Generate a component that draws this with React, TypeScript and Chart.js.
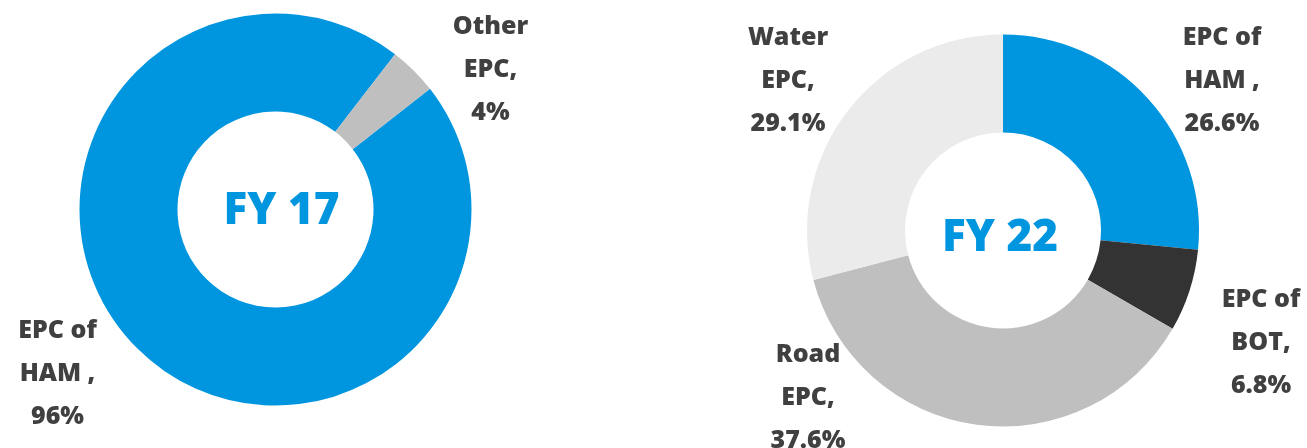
import React, { useEffect, useRef } from 'react';
import { Chart, registerables } from 'chart.js';

Chart.register(...registerables);

// ---- Data ----
const fy17Categories = ['EPC of HAM', 'Other EPC'];
const fy17Values = [96, 4];
const fy17LabelLines = [
  ['EPC of', 'HAM ,', '96%'],
  ['Other', 'EPC,', '4%'],
];
const fy17Colors = ['#0095DF', '#BFBFBF'];
const fy17Title = 'FY 17';

const fy22Categories = ['EPC of HAM', 'EPC of BOT', 'Road EPC', 'Water EPC'];
const fy22Values = [26.6, 6.8, 37.6, 29.1];
const fy22LabelLines = [
  ['EPC of', 'HAM ,', '26.6%'],
  ['EPC of', 'BOT,', '6.8%'],
  ['Road', 'EPC,', '37.6%'],
  ['Water', 'EPC,', '29.1%'],
];
const fy22Colors = ['#0095DF', '#333333', '#BFBFBF', '#EBEBEB'];
const fy22Title = 'FY 22';

// ---- Layout (label anchors relative to doughnut centre, middle line) ----
const fy17LabelOffsets = [
  [-218, 163],
  [215, -141],
];
const fy22LabelOffsets = [
  [219, -151],
  [258, 111],
  [-195, 166],
  [-215, -151],
];

const FONT = '"Open Sans", "Noto Sans", sans-serif';

const labelPlugin = {
  id: 'sliceLabels',
  afterDraw(chart: any, _args: any, opts: any) {
    const meta = chart.getDatasetMeta(0);
    const arc = meta.data[0];
    if (!arc) return;
    const cx = arc.x;
    const cy = arc.y;
    const ctx = chart.ctx;
    ctx.save();
    ctx.textAlign = 'center';
    ctx.textBaseline = 'alphabetic';
    ctx.fillStyle = '#404040';
    ctx.font = `800 25px ${FONT}`;
    const lh = 43;
    (opts.lines || []).forEach((lines: string[], i: number) => {
      const [dx, dy] = opts.offsets[i];
      lines.forEach((t, j) => {
        ctx.fillText(t, cx + dx, cy + dy + 8.5 + (j - 1) * lh);
      });
    });
    ctx.fillStyle = '#0095DF';
    ctx.font = `800 44px ${FONT}`;
    ctx.fillText(opts.title, cx + opts.titleOffset[0], cy + opts.titleOffset[1] + 16);
    ctx.restore();
  },
};

function Doughnut(props: {
  categories: string[];
  values: number[];
  colors: string[];
  lines: string[][];
  offsets: number[][];
  title: string;
  titleOffset: number[];
  rotation: number;
  width: number;
  height: number;
  left: number;
  padding: { left: number; right: number; top: number; bottom: number };
}) {
  const ref = useRef<HTMLCanvasElement>(null);
  useEffect(() => {
    if (!ref.current) return;
    const chart = new Chart(ref.current, {
      type: 'doughnut',
      data: {
        labels: props.categories,
        datasets: [
          {
            data: props.values,
            backgroundColor: props.colors,
            borderWidth: 0,
            hoverOffset: 0,
            offset: 0,
          },
        ],
      },
      options: {
        responsive: false,
        animation: false,
        cutout: '50%',
        rotation: props.rotation,
        layout: { padding: props.padding },
        plugins: {
          legend: { display: false },
          tooltip: { enabled: false },
          title: { display: false },
          sliceLabels: {
            lines: props.lines,
            offsets: props.offsets,
            title: props.title,
            titleOffset: props.titleOffset,
          },
        } as any,
      },
      plugins: [labelPlugin],
    } as any);
    return () => chart.destroy();
  }, []);
  return (
    <canvas
      ref={ref}
      width={props.width}
      height={props.height}
      style={{ position: 'absolute', left: props.left, top: 0, width: props.width, height: props.height }}
    />
  );
}

export default function App() {
  return (
    <div style={{ position: 'absolute', left: 0, top: 0, width: 1307, height: 448, background: '#ffffff', overflow: 'hidden' }}>
      <Doughnut
        categories={fy17Categories}
        values={fy17Values}
        colors={fy17Colors}
        lines={fy17LabelLines}
        offsets={fy17LabelOffsets}
        title={fy17Title}
        titleOffset={[6, -2]}
        rotation={52}
        width={650}
        height={448}
        left={0}
        padding={{ left: 79.5, right: 178.5, top: 13.5, bottom: 42.5 }}
      />
      <Doughnut
        categories={fy22Categories}
        values={fy22Values}
        colors={fy22Colors}
        lines={fy22LabelLines}
        offsets={fy22LabelOffsets}
        title={fy22Title}
        titleOffset={[-3, 4]}
        rotation={0}
        width={657}
        height={448}
        left={650}
        padding={{ left: 157, right: 108, top: 34.5, bottom: 21.5 }}
      />
    </div>
  );
}
